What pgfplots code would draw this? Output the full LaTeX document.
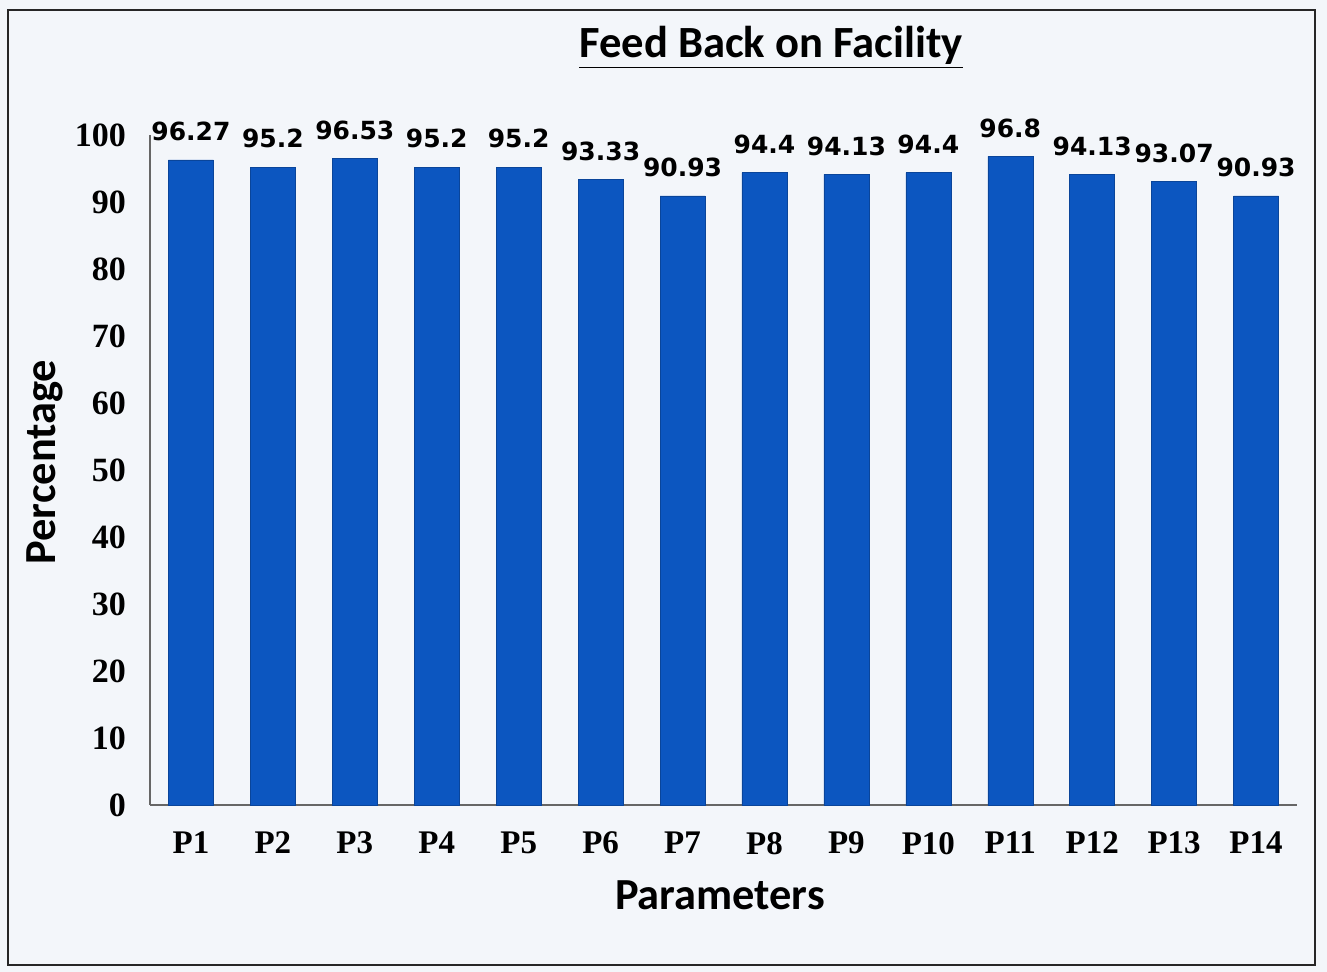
\documentclass[border=0pt]{standalone}
\usepackage{pgfplots}
\pgfplotsset{compat=1.18}
\usepackage{fontspec}
\setmainfont{Liberation Serif}
\newfontfamily\calib{Carlito}
\newfontfamily\dvs{DejaVu Sans}
\definecolor{barblue}{RGB}{12,86,192}
\definecolor{bgc}{RGB}{243,246,250}
\begin{document}
\begin{tikzpicture}[x=1pt,y=1pt]
\fill[bgc] (0,0) rectangle (663.5,486);
\draw[line width=1.1pt, black!85] (4,3.5) rectangle (657.5,481);
\node[font=\calib\bfseries\fontsize{22.3}{26}\selectfont] at (385.5,462.5) {\underline{Feed Back on Facility}};
\begin{axis}[
  at={(75pt,83.5pt)}, anchor=south west,
  scale only axis, width=573.5pt, height=335pt,
  xmin=-0.5, xmax=13.5, ymin=0, ymax=100,
  axis x line=bottom, axis y line=left,
  axis line style={black!60, line width=0.8pt, -},
  ybar, bar width=22.5pt,
  xtick=data,
  xticklabels={P1,P2,P3,P4,P5,P6,P7,P8,P9,P10,P11,P12,P13,P14},
  ytick={0,10,...,100},
  major tick length=0pt,
  /pgf/number format/assume math mode=true,
  yticklabel style={font=\bfseries\fontsize{17}{20}\selectfont, xshift=-8.5pt},
  xticklabel style={font=\bfseries\fontsize{16.5}{20}\selectfont, yshift=-10pt},
  nodes near coords,
  nodes near coords style={font=\dvs\bfseries\fontsize{12.5}{15}\selectfont, black, yshift=6pt},
  point meta=explicit symbolic,
  clip=false,
]
\addplot[fill=barblue, draw=barblue!80!black, line width=0.2pt] table[meta=label] {
x y label
0 96.27 96.27
1 95.2 95.2
2 96.53 96.53
3 95.2 95.2
4 95.2 95.2
5 93.33 93.33
6 90.93 90.93
7 94.4 94.4
8 94.13 94.13
9 94.4 94.4
10 96.8 96.8
11 94.13 94.13
12 93.07 93.07
13 90.93 90.93
};
\end{axis}
\node[font=\calib\bfseries\fontsize{22.2}{26}\selectfont] at (360,38.5) {Parameters};
\node[font=\calib\bfseries\fontsize{22.2}{26}\selectfont, rotate=90] at (22.5,255) {Percentage};
\end{tikzpicture}
\end{document}
